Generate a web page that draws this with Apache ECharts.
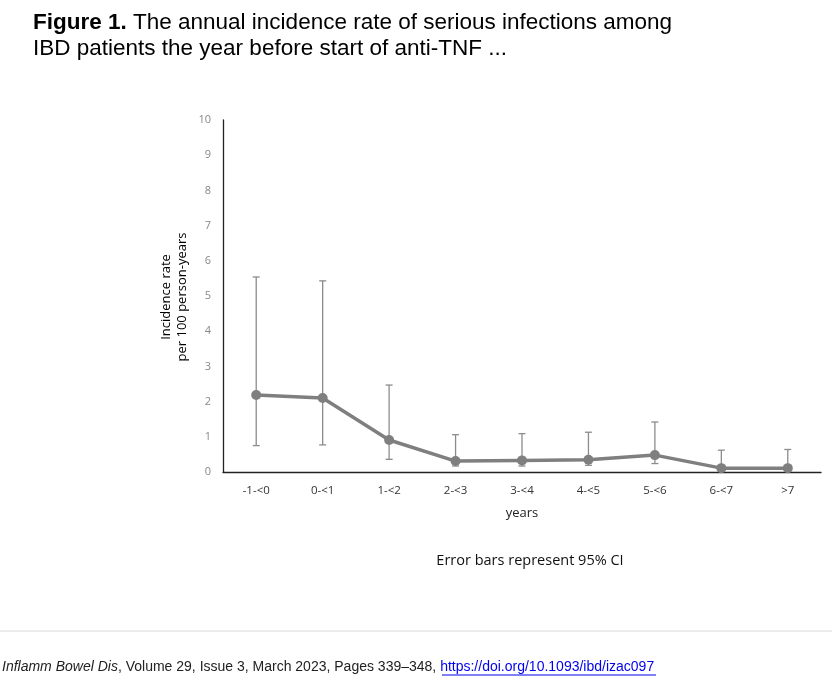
<!DOCTYPE html>
<html><head><meta charset="utf-8">
<script src="https://cdn.jsdelivr.net/npm/echarts@6/dist/echarts.min.js"></script>
<style>html,body{margin:0;padding:0;background:#fff;}#c{width:832px;height:676px;}</style>
</head><body><div id="c"></div>
<script>
const categories = ['-1-<0','0-<1','1-<2','2-<3','3-<4','4-<5','5-<6','6-<7','>7'];
const rates = [2.19, 2.10, 0.91, 0.31, 0.33, 0.35, 0.48, 0.11, 0.11];
const ciLower = [0.75, 0.77, 0.36, 0.17, 0.17, 0.19, 0.24, 0.03, 0.03];
const ciUpper = [5.54, 5.43, 2.47, 1.06, 1.09, 1.13, 1.42, 0.62, 0.64];
const yTicks = [0,1,2,3,4,5,6,7,8,9,10];

const chart = echarts.init(document.getElementById('c'));
const errData = categories.map((c,i)=>[i, ciLower[i], ciUpper[i]]);
chart.setOption({
  animation:false,
  grid:{left:223,right:11,top:120,bottom:204},
  xAxis:{type:'category',data:categories,boundaryGap:true,
    axisLine:{lineStyle:{color:'#222',width:1.3}},axisTick:{show:false},
    axisLabel:{color:'#333',fontSize:11.5,fontFamily:'Open Sans',margin:13},
    name:'years',nameLocation:'middle',nameGap:35,
    nameTextStyle:{color:'#222',fontSize:13,fontFamily:'Open Sans'}},
  yAxis:{type:'value',min:0,max:10,interval:1,
    axisLine:{show:true,lineStyle:{color:'#222',width:1.3}},axisTick:{show:false},
    splitLine:{show:false},
    axisLabel:{color:'#888',fontSize:11,fontFamily:'Open Sans',margin:12,
      formatter:v=>yTicks.includes(v)?String(v):''}},
  series:[
    {type:'custom',data:errData,z:1,
      renderItem:function(params,api){
        const x=api.value(0);
        const lo=api.coord([x,api.value(1)]);
        const hi=api.coord([x,api.value(2)]);
        const w=3.5;
        const st={stroke:'#8c8c8c',lineWidth:1.3};
        return {type:'group',children:[
          {type:'line',shape:{x1:lo[0],y1:lo[1],x2:hi[0],y2:hi[1]},style:st},
          {type:'line',shape:{x1:lo[0]-w,y1:lo[1],x2:lo[0]+w,y2:lo[1]},style:st},
          {type:'line',shape:{x1:hi[0]-w,y1:hi[1],x2:hi[0]+w,y2:hi[1]},style:st}
        ]};
      }},
    {type:'line',data:rates,z:2,symbol:'circle',symbolSize:10,
      lineStyle:{color:'#7f7f7f',width:3.5},itemStyle:{color:'#7f7f7f'}}
  ],
  graphic:[
    {type:'text',left:33,top:10,style:{
      text:'{b|Figure 1.} The annual incidence rate of serious infections among\nIBD patients the year before start of anti-TNF ...',
      fontFamily:'Liberation Sans, Arial',fontSize:22.5,fill:'#000',lineHeight:26,
      rich:{b:{fontWeight:'bold',fontSize:22.5,fontFamily:'Liberation Sans, Arial',fill:'#000',lineHeight:26}}}},
    {type:'text',x:174,y:297,rotation:Math.PI/2,style:{
      text:'Incidence rate\nper 100 person-years',fontFamily:'Open Sans',fontSize:13,
      fill:'#000',align:'center',verticalAlign:'middle',lineHeight:16}},
    {type:'text',x:530,y:561,style:{text:'Error bars represent 95% CI',fontFamily:'Open Sans',
      fontSize:14.5,fill:'#111',align:'center',verticalAlign:'middle'}},
    {type:'line',shape:{x1:0,y1:631,x2:832,y2:631},style:{stroke:'#d8d8d8',lineWidth:1}},
    {type:'text',left:2,top:660,style:{
      text:'{i|Inflamm Bowel Dis}, Volume 29, Issue 3, March 2023, Pages 339–348, {l|https://doi.org/10.1093/ibd/izac097}',
      fontFamily:'Liberation Sans, Arial',fontSize:14,fill:'#222',
      rich:{i:{fontStyle:'italic',fontFamily:'Liberation Sans, Arial',fontSize:14,fill:'#222'},
            l:{fontFamily:'Liberation Sans, Arial',fontSize:14,fill:'#0000ee'}}}},
    {type:'line',id:'ul',shape:{x1:442,y1:675,x2:656,y2:675},style:{stroke:'#0000ee',lineWidth:1}}
  ]
});
</script></body></html>
